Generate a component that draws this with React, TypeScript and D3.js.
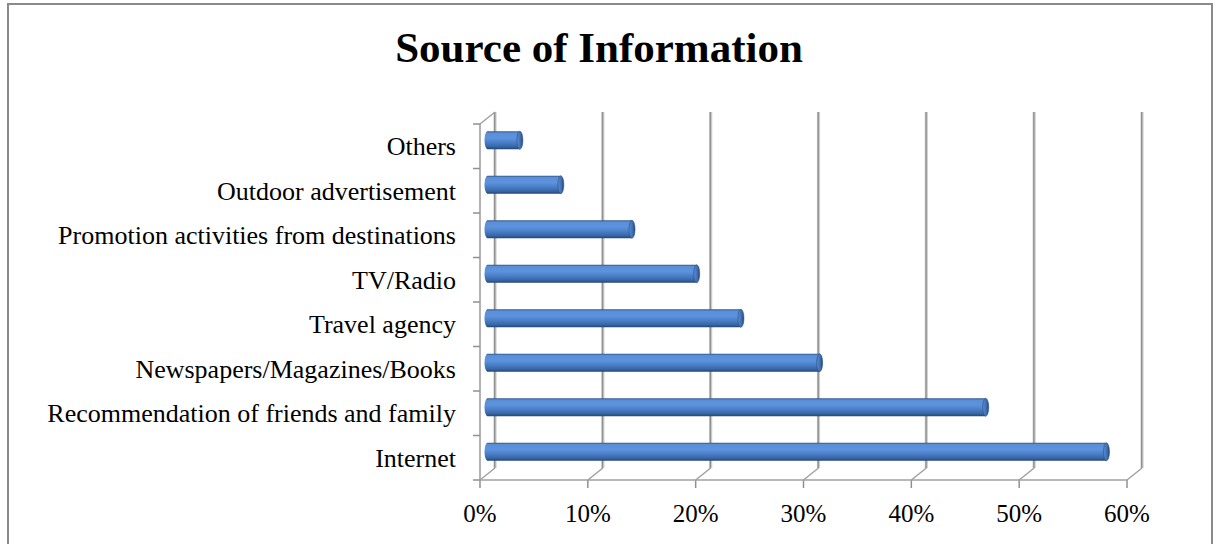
import React from "react";
import * as d3 from "d3";

const title = "Source of Information";
const categories = [
  "Internet",
  "Recommendation of friends and family",
  "Newspapers/Magazines/Books",
  "Travel agency",
  "TV/Radio",
  "Promotion activities from destinations",
  "Outdoor advertisement",
  "Others",
];
const values = [0.574, 0.462, 0.308, 0.235, 0.194, 0.134, 0.068, 0.03];
const xTicks = [0, 0.1, 0.2, 0.3, 0.4, 0.5, 0.6];

const W = 1219;
const H = 544;
const FONT = "'Liberation Serif', 'Times New Roman', serif";
const DX = 15; // depth offset
const DY = -12;
const FRONT_BOTTOM = 480;
const FRONT_TOP = 124;

export default function App() {
  const x = d3.scaleLinear().domain([0, 0.6]).range([480, 1127]);
  const y = d3
    .scaleBand<string>()
    .domain([...categories].reverse())
    .range([FRONT_TOP, FRONT_BOTTOM])
    .paddingInner(0)
    .paddingOuter(0);
  const fmt = d3.format(".0%");
  const bw = y.bandwidth();
  const barH = 18;
  const rx = 3;
  const bandEdges = d3.range(categories.length + 1).map((i) => FRONT_TOP + i * bw);

  const barPath = (x0: number, x1: number, yt: number, h: number) => {
    const p = d3.path();
    p.moveTo(x0, yt);
    p.lineTo(x1, yt);
    p.lineTo(x1, yt + h);
    p.lineTo(x0, yt + h);
    p.closePath();
    return p.toString();
  };

  return (
    <svg
      width={W}
      height={H}
      style={{ position: "absolute", left: 0, top: 0, background: "#fff" }}
    >
      <defs>
        <linearGradient id="barGrad" x1="0" y1="0" x2="0" y2="1">
          <stop offset="0" stopColor="#2f5489" />
          <stop offset="0.1" stopColor="#5a8fd8" />
          <stop offset="0.38" stopColor="#5d93dd" />
          <stop offset="0.62" stopColor="#4a7fc8" />
          <stop offset="0.86" stopColor="#3766a6" />
          <stop offset="1" stopColor="#22466f" />
        </linearGradient>
        <linearGradient id="capGrad" x1="0" y1="0" x2="1" y2="0">
          <stop offset="0" stopColor="#5b8ed4" />
          <stop offset="0.6" stopColor="#3f6eb0" />
          <stop offset="1" stopColor="#23456f" />
        </linearGradient>
      </defs>

      {/* chart border */}
      <rect x={8} y={4} width={1204} height={560} fill="none" stroke="#8a8a8a" strokeWidth={2} />

      {/* title */}
      <text
        x={599}
        y={62}
        textAnchor="middle"
        fontFamily={FONT}
        fontWeight="bold"
        fontSize={43}
        fill="#000"
      >
        {title}
      </text>

      {/* back gridlines */}
      {xTicks.map((t) => (
        <g key={"g" + t}>
          <line
            x1={x(t) + DX}
            x2={x(t) + DX}
            y1={FRONT_TOP + DY}
            y2={FRONT_BOTTOM + DY}
            stroke="#cfcfcf"
            strokeWidth={3.2}
          />
          <line
            x1={x(t) + DX - 0.3}
            x2={x(t) + DX - 0.3}
            y1={FRONT_TOP + DY}
            y2={FRONT_BOTTOM + DY}
            stroke="#909090"
            strokeWidth={1.4}
          />
          {/* floor diagonal */}
          <line
            x1={x(t)}
            y1={FRONT_BOTTOM}
            x2={x(t) + DX}
            y2={FRONT_BOTTOM + DY}
            stroke="#a0a0a0"
            strokeWidth={1.5}
          />
          {/* tick mark */}
          <line x1={x(t)} x2={x(t)} y1={FRONT_BOTTOM} y2={FRONT_BOTTOM + 8} stroke="#909090" strokeWidth={1.5} />
          <text
            x={x(t)}
            y={522}
            textAnchor="middle"
            fontFamily={FONT}
            fontSize={25}
            fill="#000"
          >
            {fmt(t)}
          </text>
        </g>
      ))}

      {/* left wall front edge and top */}
      <line x1={480} x2={480} y1={FRONT_TOP} y2={FRONT_BOTTOM} stroke="#a0a0a0" strokeWidth={1.6} />
      <line x1={480} y1={FRONT_TOP} x2={480 + DX} y2={FRONT_TOP + DY} stroke="#a0a0a0" strokeWidth={1.5} />
      {/* front floor edge / x axis */}
      <line x1={480} x2={x(0.6)} y1={FRONT_BOTTOM} y2={FRONT_BOTTOM} stroke="#a0a0a0" strokeWidth={1.6} />

      {/* category ticks */}
      {bandEdges.map((e, i) => (
        <line key={"ct" + i} x1={473} x2={480} y1={e} y2={e} stroke="#909090" strokeWidth={1.5} />
      ))}

      {/* category labels */}
      {categories.map((c) => (
        <text
          key={"l" + c}
          x={456}
          y={(y(c) as number) + bw / 2 + 9}
          textAnchor="end"
          fontFamily={FONT}
          fontSize={26}
          fill="#000"
        >
          {c}
        </text>
      ))}

      {/* bars (cylinders at mid-depth) */}
      {categories.map((c, i) => {
        const cy = (y(c) as number) + bw / 2 + DY / 2;
        const x0 = x(0) + DX / 2;
        const x1 = x(values[i]) + DX / 2;
        const yt = cy - barH / 2;
        return (
          <g key={"b" + c}>
            <ellipse cx={x0} cy={cy} rx={rx} ry={barH / 2} fill="url(#barGrad)" />
            <path d={barPath(x0, x1, yt, barH)} fill="url(#barGrad)" />
            <ellipse
              cx={x1}
              cy={cy}
              rx={rx}
              ry={barH / 2}
              fill="url(#capGrad)"
              stroke="#2a4d7e"
              strokeWidth={0.6}
            />
          </g>
        );
      })}
    </svg>
  );
}
